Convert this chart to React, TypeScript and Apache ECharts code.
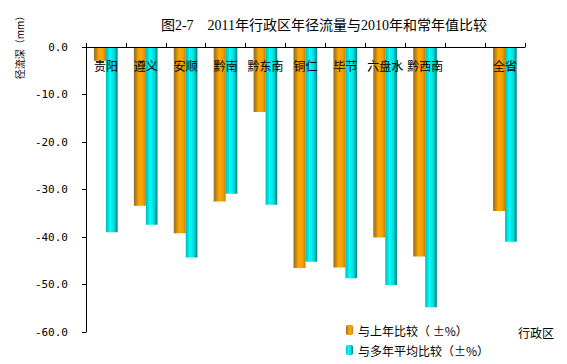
import React, { useEffect, useRef } from "react";
import * as echarts from "echarts";

const categories = ["贵阳", "遵义", "安顺", "黔南", "黔东南", "铜仁", "毕节", "六盘水", "黔西南", "", "全省"];
const vsLastYear = [-2.9, -33.4, -39.2, -32.5, -13.7, -46.5, -46.4, -40.1, -44.1, null, -34.5];
const vsNormal = [-39.0, -37.4, -44.3, -30.9, -33.2, -45.2, -48.7, -50.1, -54.8, null, -41.0];
const seriesNames = ["与上年比较（ ±%）", "与多年平均比较（±%）"];
const titleText = "图2-7　2011年行政区年径流量与2010年和常年值比较";

const orangeGrad = new echarts.graphic.LinearGradient(0, 0, 1, 0, [
  { offset: 0, color: "#8c7040" },
  { offset: 0.12, color: "#b07a10" },
  { offset: 0.45, color: "#ffa800" },
  { offset: 0.75, color: "#f5a000" },
  { offset: 1, color: "#c08000" },
]);
const cyanGrad = new echarts.graphic.LinearGradient(0, 0, 1, 0, [
  { offset: 0, color: "#00b8b8" },
  { offset: 0.35, color: "#00ffff" },
  { offset: 0.7, color: "#00d8d8" },
  { offset: 0.92, color: "#008a8a" },
  { offset: 1, color: "#a8c8e0" },
]);

export default function App() {
  const ref = useRef<HTMLDivElement>(null);
  useEffect(() => {
    if (!ref.current) return;
    const chart = echarts.init(ref.current, null, { renderer: "svg" });
    const cjk = "'Noto Sans CJK SC', sans-serif";
    chart.setOption({
      animation: false,
      backgroundColor: "#ffffff",
      title: {
        text: titleText,
        left: 319,
        textAlign: "center",
        top: 13,
        textStyle: {
          fontSize: 14,
          fontWeight: "normal",
          color: "#000",
          fontFamily: "'Liberation Serif', 'Noto Sans CJK SC', serif",
        },
      },
      legend: {
        orient: "vertical",
        left: 341,
        top: 319,
        itemWidth: 7,
        itemHeight: 10,
        itemGap: 8,
        textStyle: { fontSize: 12, color: "#000", fontFamily: cjk },
        data: seriesNames,
      },
      grid: { left: 86, right: 42, top: 47, bottom: 32, containLabel: false },
      xAxis: {
        type: "category",
        position: "top",
        data: categories,
        axisLine: { lineStyle: { color: "#000", width: 1 } },
        axisTick: { show: true, inside: false, length: 4, lineStyle: { color: "#000" } },
        axisLabel: {
          inside: true,
          interval: 0,
          margin: 12,
          fontSize: 12,
          color: "#000",
          fontFamily: cjk,
        },
        z: 10,
      },
      yAxis: {
        type: "value",
        min: -60,
        max: 0,
        interval: 10,
        axisLine: { show: true, lineStyle: { color: "#000", width: 1 } },
        axisTick: { show: true, length: 4, lineStyle: { color: "#000" } },
        splitLine: { show: false },
        axisLabel: {
          margin: 18,
          fontSize: 11,
          color: "#000",
          fontFamily: "'DejaVu Sans Mono', monospace",
          formatter: (v: number) => v.toFixed(1),
        },
      },
      graphic: [
        {
          type: "text",
          x: 19,
          y: 45,
          rotation: Math.PI / 2,
          style: {
            text: "径流深（mm）",
            fontSize: 10,
            fill: "#000",
            fontFamily: cjk,
            align: "center",
            verticalAlign: "middle",
          },
        },
        {
          type: "text",
          x: 536,
          y: 332,
          style: {
            text: "行政区",
            fontSize: 12,
            fill: "#000",
            fontFamily: cjk,
            align: "center",
            verticalAlign: "middle",
          },
        },
      ],
      series: [
        {
          name: seriesNames[0],
          type: "bar",
          data: vsLastYear,
          barWidth: 12,
          barGap: "0%",
          itemStyle: { color: orangeGrad },
        },
        {
          name: seriesNames[1],
          type: "bar",
          data: vsNormal,
          barWidth: 12,
          barGap: "0%",
          itemStyle: { color: cyanGrad },
        },
      ],
    });
    return () => chart.dispose();
  }, []);
  return (
    <div
      ref={ref}
      style={{ position: "absolute", left: 0, top: 0, width: 567, height: 364 }}
    />
  );
}
